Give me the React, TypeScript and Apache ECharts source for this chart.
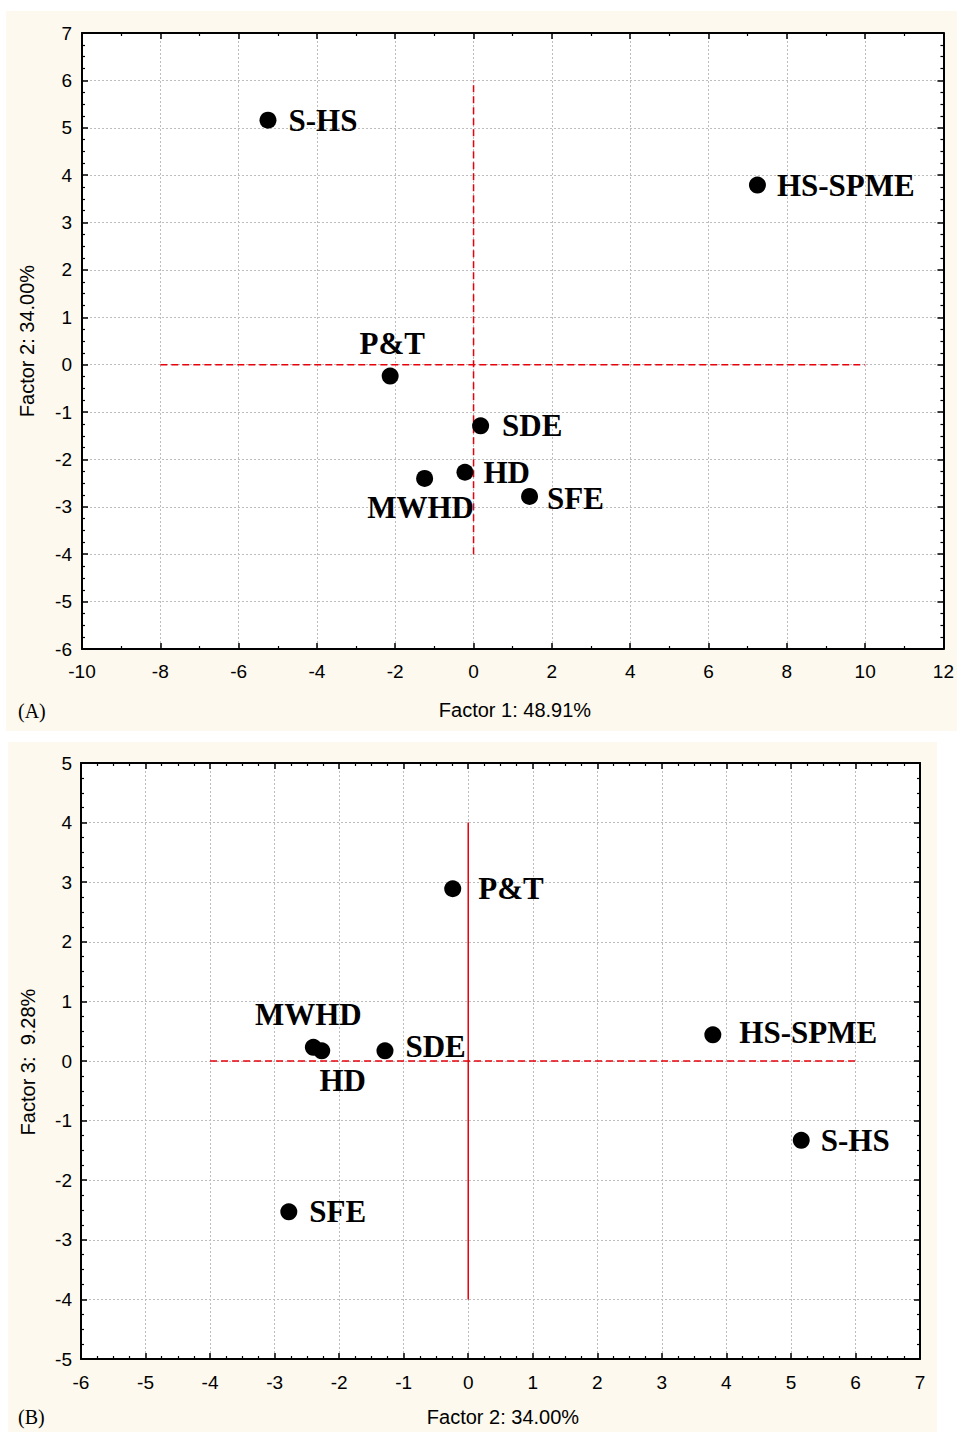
import React, { useEffect, useRef } from "react";
import * as echarts from "echarts";

// ---- data ----
const samples = ["S-HS", "HS-SPME", "P&T", "SDE", "HD", "MWHD", "SFE"];
const factor1 = [-5.25, 7.25, -2.13, 0.18, -0.22, -1.25, 1.43];
const factor2 = [5.16, 3.79, -0.24, -1.29, -2.27, -2.4, -2.78];
const factor3 = [-1.33, 0.44, 2.89, 0.17, 0.17, 0.23, -2.53];

const refHA = [[-8, 0], [10, 0]];
const refVA = [[0, -4], [0, 6]];
const refHB = [[-4, 0], [6, 0]];
const refVB = [[0, -4], [0, 4]];

const titleA = { x: "Factor 1: 48.91%", y: "Factor 2: 34.00%", tag: "(A)" };
const titleB = { x: "Factor 2: 34.00%", y: "Factor 3:  9.28%", tag: "(B)" };

// label placement (style only)
const labelA: Record<string, any> = {
  "S-HS": { position: "right", distance: 12 },
  "HS-SPME": { position: "right", distance: 11 },
  "P&T": { position: "top", distance: 9, offset: [2, 0] },
  SDE: { position: "right", distance: 13 },
  HD: { position: "right", distance: 10 },
  MWHD: { position: "bottom", distance: 5, offset: [-4, 0] },
  SFE: { position: "right", distance: 9, offset: [0, 2] },
};
const labelB: Record<string, any> = {
  "S-HS": { position: "right", distance: 11 },
  "HS-SPME": { position: "right", distance: 18, offset: [0, -2] },
  "P&T": { position: "right", distance: 17 },
  SDE: { position: "right", distance: 12, offset: [0, -4] },
  HD: { position: "bottom", distance: 6, offset: [21, 0] },
  MWHD: { position: "top", distance: 9, offset: [-5, 0] },
  SFE: { position: "right", distance: 12 },
};

const CREAM = "#fdf9ee";
const SANS = "'Liberation Sans', Arial, sans-serif";
const SERIF = "'Liberation Serif', 'Times New Roman', serif";

function axisPair(
  kind: "x" | "y",
  gridIndex: number,
  min: number,
  max: number,
  interval: number,
  minorSplit: number,
  margin: number
) {
  const base = {
    type: "value",
    gridIndex,
    min,
    max,
    interval,
    axisLine: { show: true, onZero: false, lineStyle: { color: "#000", width: 2 } },
    axisTick: { show: true, inside: true, length: 6, lineStyle: { color: "#000", width: 1.5 } },
    minorTick: { show: true, splitNumber: minorSplit, length: 3, lineStyle: { color: "#000", width: 1.2 } },
  };
  const main = {
    ...base,
    position: kind === "x" ? "bottom" : "left",
    axisLabel: { show: true, color: "#000", fontSize: 19, fontFamily: SANS, margin },
    splitLine: { show: true, lineStyle: { color: "#bdbdbd", type: [2, 2], width: 1 } },
  };
  const opp = {
    ...base,
    position: kind === "x" ? "top" : "right",
    axisLabel: { show: false },
    splitLine: { show: false },
  };
  return [main, opp];
}

function scatterSeries(xs: number[], ys: number[], idx: number, labels: Record<string, any>) {
  return {
    type: "scatter",
    xAxisIndex: idx * 2,
    yAxisIndex: idx * 2,
    symbol: "circle",
    symbolSize: 17,
    itemStyle: { color: "#000", opacity: 1 },
    z: 5,
    data: samples.map((n, i) => ({
      name: n,
      value: [xs[i], ys[i]],
      label: {
        show: true,
        formatter: n,
        color: "#000",
        fontSize: 31,
        fontWeight: "bold",
        fontFamily: SERIF,
        ...labels[n],
      },
    })),
  };
}

function refLine(data: number[][], idx: number, type: any) {
  return {
    type: "line",
    xAxisIndex: idx * 2,
    yAxisIndex: idx * 2,
    data,
    symbol: "none",
    z: 3,
    lineStyle: { color: "#e8000b", width: 1.5, type },
    silent: true,
  };
}

export default function App() {
  const ref = useRef<HTMLDivElement>(null);
  useEffect(() => {
    if (!ref.current) return;
    const chart = echarts.init(ref.current, undefined, { renderer: "svg" });
    const [xA, xA2] = axisPair("x", 0, -10, 12, 2, 2, 13);
    const [yA, yA2] = axisPair("y", 0, -6, 7, 1, 4, 10);
    const [xB, xB2] = axisPair("x", 1, -6, 7, 1, 4, 14);
    const [yB, yB2] = axisPair("y", 1, -5, 5, 1, 4, 9);
    const txt = (text: string, x: number, y: number, font: string, size: number, rot = 0, align = "center") => ({
      type: "text",
      x,
      y,
      rotation: rot,
      z: 10,
      style: { text, fill: "#000", font: `${size}px ${font}`, align, verticalAlign: "middle" },
    });
    chart.setOption({
      animation: false,
      backgroundColor: "#fff",
      grid: [
        { left: 82, top: 33, width: 862, height: 616, show: true, backgroundColor: "#fff", borderWidth: 0 },
        { left: 81, top: 763, width: 839, height: 596, show: true, backgroundColor: "#fff", borderWidth: 0 },
      ],
      xAxis: [xA, xA2, xB, xB2],
      yAxis: [yA, yA2, yB, yB2],
      graphic: [
        { type: "rect", z: -10, shape: { x: 6, y: 11, width: 951, height: 720 }, style: { fill: CREAM } },
        { type: "rect", z: -10, shape: { x: 8, y: 742, width: 929, height: 690 }, style: { fill: CREAM } },
        txt(titleA.x, 515, 710, SANS, 20),
        txt(titleA.y, 27, 341, SANS, 20, Math.PI / 2),
        txt(titleA.tag, 18, 711, SERIF, 20, 0, "left"),
        txt(titleB.x, 503, 1417, SANS, 20),
        txt(titleB.y, 28, 1062, SANS, 20, Math.PI / 2),
        txt(titleB.tag, 18, 1417, SERIF, 20, 0, "left"),
      ],
      series: [
        refLine(refHA, 0, [7, 4]),
        refLine(refVA, 0, [7, 4]),
        refLine(refHB, 1, [7, 4]),
        refLine(refVB, 1, "solid"),
        scatterSeries(factor1, factor2, 0, labelA),
        scatterSeries(factor2, factor3, 1, labelB),
      ],
    });
    return () => chart.dispose();
  }, []);
  return (
    <div
      ref={ref}
      style={{ position: "absolute", left: 0, top: 0, width: 957, height: 1432 }}
    />
  );
}
